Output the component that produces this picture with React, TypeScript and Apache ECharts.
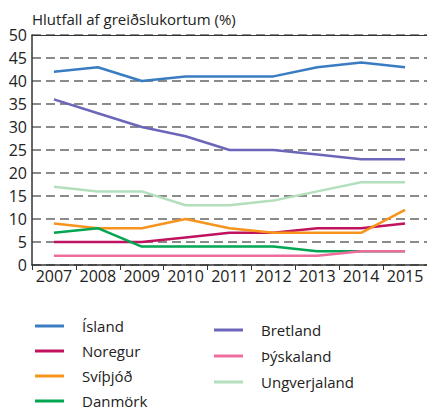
import React, { useEffect, useRef } from "react";
import * as echarts from "echarts";

const years = ["2007", "2008", "2009", "2010", "2011", "2012", "2013", "2014", "2015"];
const island = [42, 43, 40, 41, 41, 41, 43, 44, 43];
const noregur = [5, 5, 5, 6, 7, 7, 8, 8, 9];
const svithjod = [9, 8, 8, 10, 8, 7, 7, 7, 12];
const danmork = [7, 8, 4, 4, 4, 4, 3, 3, 3];
const bretland = [36, 33, 30, 28, 25, 25, 24, 23, 23];
const thyskaland = [2, 2, 2, 2, 2, 2, 2, 3, 3];
const ungverjaland = [17, 16, 16, 13, 13, 14, 16, 18, 18];

const seriesDefs = [
  { name: "Ísland", data: island, color: "#3a7cc2" },
  { name: "Noregur", data: noregur, color: "#c0125f" },
  { name: "Svíþjóð", data: svithjod, color: "#f7941e" },
  { name: "Danmörk", data: danmork, color: "#00a651" },
  { name: "Bretland", data: bretland, color: "#6b66b9" },
  { name: "Þýskaland", data: thyskaland, color: "#ee6b9d" },
  { name: "Ungverjaland", data: ungverjaland, color: "#b3dfbd" },
];

const FONT = "Open Sans";

export default function App() {
  const ref = useRef<HTMLDivElement>(null);
  useEffect(() => {
    const chart = echarts.init(ref.current!, undefined, { renderer: "svg" });
    const legendCommon = {
      orient: "vertical" as const,
      icon: "rect",
      itemWidth: 29,
      itemHeight: 3,
      height: 200,
      textStyle: { fontFamily: FONT, fontSize: 15, color: "#222", padding: [0, 0, 0, 13], lineHeight: 18 },
    };
    chart.setOption({
      animation: false,
      title: {
        text: "Hlutfall af greiðslukortum (%)",
        left: 27,
        top: 6,
        textStyle: { fontFamily: FONT, fontSize: 15, fontWeight: "normal", color: "#222" },
      },
      legend: [
        { ...legendCommon, left: 30, top: 312, itemGap: 7, data: ["Ísland", "Noregur", "Svíþjóð", "Danmörk"] },
        { ...legendCommon, left: 209, top: 316, itemGap: 8, data: ["Bretland", "Þýskaland", "Ungverjaland"] },
      ],
      grid: { left: 32, right: -2, top: 35, bottom: 147, containLabel: false },
      xAxis: [
        {
          type: "category",
          data: years,
          boundaryGap: true,
          axisLine: { lineStyle: { color: "#333", width: 1.5 } },
          axisTick: { show: true, alignWithLabel: false, length: 5, lineStyle: { color: "#333" } },
          axisLabel: { interval: 0, fontFamily: FONT, fontSize: 16, color: "#222", margin: 3 },
        },
        {
          type: "category",
          data: years,
          position: "top",
          axisLine: { show: true, lineStyle: { color: "#333", width: 1.2 } },
          axisTick: { show: false },
          axisLabel: { show: false },
        },
      ],
      yAxis: {
        type: "value",
        min: 0,
        max: 50,
        interval: 5,
        axisLine: { show: true, lineStyle: { color: "#333", width: 1.5 } },
        axisTick: { show: false },
        axisLabel: { fontFamily: FONT, fontSize: 16, color: "#222", margin: 5 },
        splitLine: { show: true, lineStyle: { color: "#666", type: [9, 5], width: 1.6 } },
      },
      series: seriesDefs.map((s) => ({
        name: s.name,
        type: "line",
        data: s.data,
        symbol: "none",
        color: s.color,
        lineStyle: { width: 2.5, color: s.color },
      })),
    });
    return () => chart.dispose();
  }, []);
  return <div ref={ref} style={{ width: 427, height: 412, position: "absolute", left: 0, top: 0, background: "#fff" }} />;
}
